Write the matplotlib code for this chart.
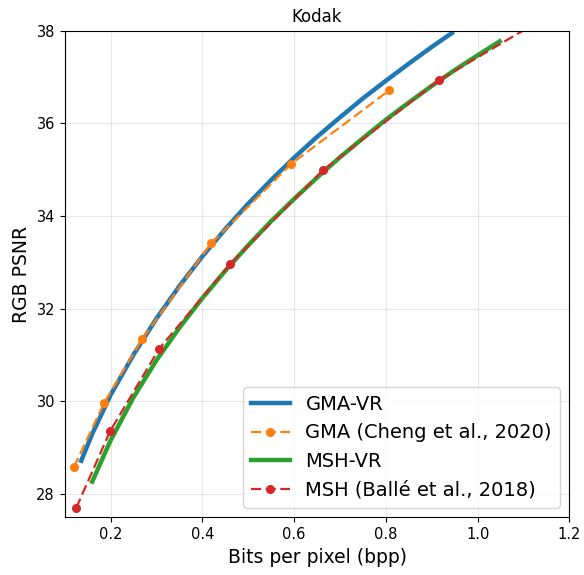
import matplotlib
matplotlib.use("Agg")
import matplotlib.pyplot as plt

# GMA-VR (variable rate curve)
gma_vr_bpp = [0.136, 0.16, 0.2, 0.25, 0.3, 0.35, 0.4, 0.45, 0.5, 0.55, 0.6,
              0.65, 0.7, 0.75, 0.8, 0.85, 0.9, 0.944]
gma_vr_psnr = [28.72, 29.30, 30.14, 31.01, 31.79, 32.49, 33.13, 33.72, 34.27,
               34.78, 35.26, 35.71, 36.13, 36.54, 36.92, 37.29, 37.65, 37.95]

# GMA (Cheng et al., 2020)
gma_bpp = [0.120, 0.186, 0.269, 0.419, 0.594, 0.807]
gma_psnr = [28.58, 29.97, 31.35, 33.41, 35.13, 36.71]

# MSH-VR
msh_vr_bpp = [0.160, 0.2, 0.25, 0.3, 0.35, 0.4, 0.45, 0.5, 0.55, 0.6, 0.65,
              0.7, 0.75, 0.8, 0.85, 0.9, 0.95, 1.0, 1.048]
msh_vr_psnr = [28.27, 29.16, 30.09, 30.89, 31.59, 32.23, 32.82, 33.37, 33.89,
               34.37, 34.83, 35.27, 35.68, 36.08, 36.45, 36.81, 37.15, 37.47, 37.77]

# MSH (Balle et al., 2018)
msh_bpp = [0.125, 0.199, 0.306, 0.461, 0.663, 0.915, 1.21]
msh_psnr = [27.70, 29.36, 31.14, 32.97, 34.99, 36.93, 38.65]

fig = plt.figure(figsize=(5.84, 5.75), dpi=100)
ax = fig.add_axes([0.1108, 0.1003, 0.8642, 0.8463])

ax.plot(gma_vr_bpp, gma_vr_psnr, color='#1f77b4', lw=3.2, label='GMA-VR')
ax.plot(gma_bpp, gma_psnr, color='#ff7f0e', lw=1.6, ls='--', dashes=(4.6, 2.0),
        marker='o', markersize=5.5, label='GMA (Cheng et al., 2020)')
ax.plot(msh_vr_bpp, msh_vr_psnr, color='#2ca02c', lw=3.2, label='MSH-VR')
ax.plot(msh_bpp, msh_psnr, color='#d62728', lw=1.6, ls='--', dashes=(4.6, 2.0),
        marker='o', markersize=5.5, label='MSH (Ballé et al., 2018)')

ax.set_xlim(0.1, 1.2)
ax.set_ylim(27.5, 38)
ax.set_xticks([0.2, 0.4, 0.6, 0.8, 1.0, 1.2])
ax.set_yticks([28, 30, 32, 34, 36, 38])
ax.tick_params(labelsize=10.5)
ax.grid(True, alpha=0.3)
ax.set_title('Kodak', fontsize=12)
ax.set_xlabel('Bits per pixel (bpp)', fontsize=13.5)
ax.set_ylabel('RGB PSNR', fontsize=13.5)
ax.legend(loc='lower right', fontsize=14)

fig.savefig('out.png', dpi=100)
